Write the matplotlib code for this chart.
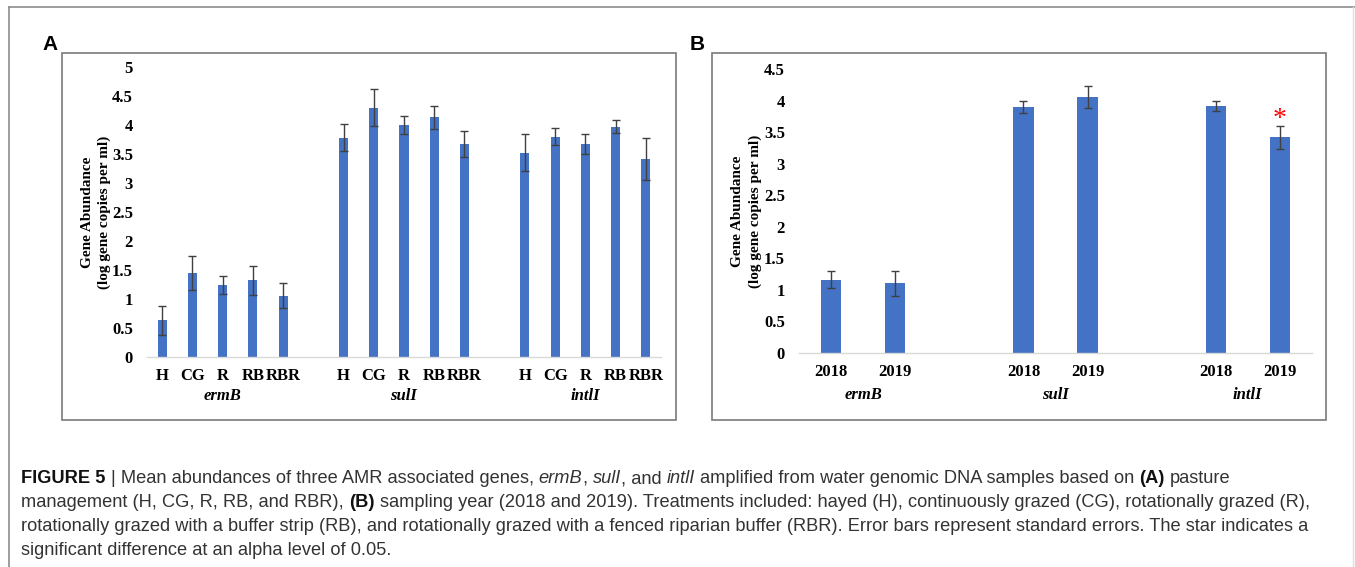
import matplotlib
matplotlib.use("Agg")
import matplotlib.pyplot as plt
from matplotlib.patches import Rectangle
from matplotlib.lines import Line2D
from matplotlib.transforms import blended_transform_factory
import numpy as np

# ---------------- data ----------------
treatments = ["H", "CG", "R", "RB", "RBR"]
genes = ["ermB", "sulI", "intlI"]
years = ["2018", "2019"]

# Panel A: mean log gene copies per ml by pasture management
a_ermB = [0.63, 1.45, 1.24, 1.32, 1.06]
a_ermB_se = [0.25, 0.30, 0.16, 0.25, 0.21]
a_sulI = [3.78, 4.30, 4.00, 4.13, 3.67]
a_sulI_se = [0.23, 0.32, 0.16, 0.20, 0.23]
a_intlI = [3.52, 3.80, 3.67, 3.97, 3.41]
a_intlI_se = [0.32, 0.14, 0.17, 0.11, 0.36]

# Panel B: by sampling year
b_ermB = [1.16, 1.10]
b_ermB_se = [0.13, 0.20]
b_sulI = [3.90, 4.06]
b_sulI_se = [0.10, 0.18]
b_intlI = [3.92, 3.42]
b_intlI_se = [0.08, 0.18]
significant_b = [(2, 1)]  # (gene index, year index) marked with a star

yticks_a = [0, 0.5, 1, 1.5, 2, 2.5, 3, 3.5, 4, 4.5, 5]
yticks_b = [0, 0.5, 1, 1.5, 2, 2.5, 3, 3.5, 4, 4.5]

ylabel_1 = "Gene Abundance"
ylabel_2 = "(log gene copies per ml)"

caption_lines = [
    [("FIGURE 5", "bold", "normal"), (" | Mean abundances of three AMR associated genes, ", "normal", "normal"),
     ("ermB", "normal", "italic"), (", ", "normal", "normal"), ("sulI", "normal", "italic"),
     (", and ", "normal", "normal"), ("intlI", "normal", "italic"),
     (" amplified from water genomic DNA samples based on ", "normal", "normal"),
     ("(A)", "bold", "normal"), (" pasture", "normal", "normal")],
    [("management (H, CG, R, RB, and RBR), ", "normal", "normal"), ("(B)", "bold", "normal"),
     (" sampling year (2018 and 2019). Treatments included: hayed (H), continuously grazed (CG), rotationally grazed (R),",
      "normal", "normal")],
    [("rotationally grazed with a buffer strip (RB), and rotationally grazed with a fenced riparian buffer (RBR). "
      "Error bars represent standard errors. The star indicates a", "normal", "normal")],
    [("significant difference at an alpha level of 0.05.", "normal", "normal")],
]

# ---------------- style ----------------
W, H = 1355, 567
BAR = "#4472C4"
ERR = "#404040"
SERIF = "Liberation Serif"
SANS = "Liberation Sans"
TXT = "#333333"
TICK_FS = 12

fig = plt.figure(figsize=(W / 100, H / 100), dpi=100)
fig.patch.set_facecolor("white")


def rect(l, t, r, b):
    return [l / W, 1 - b / H, (r - l) / W, (b - t) / H]


def fx(px):
    return px / W


def fy(py):
    return 1 - py / H


# outer frame lines
fig.add_artist(Line2D([fx(9), fx(1355)], [fy(7), fy(7)], color="#8c8c8c", lw=1.2))
fig.add_artist(Line2D([fx(9), fx(9)], [fy(7), fy(567)], color="#8c8c8c", lw=1.2))
fig.add_artist(Line2D([fx(1353), fx(1353)], [fy(7), fy(567)], color="#dddddd", lw=1.0))

# panel boxes
for l, t, r, b in [(62, 53, 676, 420), (712, 53, 1326, 420)]:
    fig.add_artist(Rectangle((fx(l), fy(b)), (r - l) / W, (b - t) / H, transform=fig.transFigure,
                             fill=False, edgecolor="#7a7a7a", lw=1.2))

fig.text(fx(50), fy(50), "A", family=SANS, fontweight="bold", fontsize=15, ha="center", va="baseline")
fig.text(fx(697), fy(50), "B", family=SANS, fontweight="bold", fontsize=15, ha="center", va="baseline")


def style_axes(ax, yticks, ylim, xlim, xpad):
    ax.set_ylim(*ylim)
    ax.set_xlim(*xlim)
    for s in ["top", "right", "left"]:
        ax.spines[s].set_visible(False)
    ax.spines["bottom"].set_color("#d9d9d9")
    ax.spines["bottom"].set_linewidth(1.0)
    ax.set_yticks(yticks)
    ax.set_yticklabels([("%g" % v) for v in yticks])
    ax.tick_params(axis="y", length=0, pad=10)
    ax.tick_params(axis="x", length=0, pad=xpad)
    for lab in ax.get_yticklabels() + ax.get_xticklabels():
        lab.set_fontfamily(SERIF)
        lab.set_fontweight("bold")
        lab.set_fontsize(TICK_FS)
    ax.set_facecolor("none")


# ---------------- panel A ----------------
axA = fig.add_axes(rect(147, 67, 661, 357))
a_vals = [a_ermB, a_sulI, a_intlI]
a_ses = [a_ermB_se, a_sulI_se, a_intlI_se]
a_x, a_lab = [], []
for gi, (vals, ses) in enumerate(zip(a_vals, a_ses)):
    xs = np.arange(len(treatments)) + gi * (len(treatments) + 1)
    axA.bar(xs, vals, width=0.3, color=BAR, zorder=2)
    axA.errorbar(xs, vals, yerr=ses, fmt="none", ecolor=ERR, elinewidth=1, capsize=3, capthick=1, zorder=3)
    a_x.extend(xs)
    a_lab.extend(treatments)
axA.set_xticks(a_x)
axA.set_xticklabels(a_lab)
style_axes(axA, yticks_a, (0, 5), (-0.5, 16.5), 8)
trA = blended_transform_factory(axA.transData, fig.transFigure)
for gi, g in enumerate(genes):
    c = gi * (len(treatments) + 1) + (len(treatments) - 1) / 2
    axA.text(c, fy(396), g, transform=trA, family=SERIF, fontweight="bold", fontstyle="italic",
             fontsize=TICK_FS, ha="center", va="center")
fig.text(fx(88), fy(212), ylabel_1, rotation=90, family=SERIF, fontweight="bold", fontsize=11,
         ha="center", va="center")
fig.text(fx(104), fy(212), ylabel_2, rotation=90, family=SERIF, fontweight="bold", fontsize=11,
         ha="center", va="center")

# ---------------- panel B ----------------
axB = fig.add_axes(rect(799, 69.3, 1312, 352.7))
b_vals = [b_ermB, b_sulI, b_intlI]
b_ses = [b_ermB_se, b_sulI_se, b_intlI_se]
b_x, b_lab = [], []
for gi, (vals, ses) in enumerate(zip(b_vals, b_ses)):
    xs = np.arange(len(years)) + gi * (len(years) + 1)
    axB.bar(xs, vals, width=0.32, color=BAR, zorder=2)
    axB.errorbar(xs, vals, yerr=ses, fmt="none", ecolor=ERR, elinewidth=1, capsize=3, capthick=1, zorder=3)
    b_x.extend(xs)
    b_lab.extend(years)
for gi, yi in significant_b:
    xpos = gi * (len(years) + 1) + yi
    top = b_vals[gi][yi] + b_ses[gi][yi]
    axB.annotate("*", xy=(xpos, top), xytext=(0, -4), textcoords="offset points", color="red",
                 family=SERIF, fontsize=20, ha="center", va="bottom")
axB.set_xticks(b_x)
axB.set_xticklabels(b_lab)
style_axes(axB, yticks_b, (0, 4.5), (-0.5, 7.5), 8)
trB = blended_transform_factory(axB.transData, fig.transFigure)
for gi, g in enumerate(genes):
    c = gi * (len(years) + 1) + (len(years) - 1) / 2
    axB.text(c, fy(395), g, transform=trB, family=SERIF, fontweight="bold", fontstyle="italic",
             fontsize=TICK_FS, ha="center", va="center")
fig.text(fx(738), fy(211), ylabel_1, rotation=90, family=SERIF, fontweight="bold", fontsize=11,
         ha="center", va="center")
fig.text(fx(755), fy(211), ylabel_2, rotation=90, family=SERIF, fontweight="bold", fontsize=11,
         ha="center", va="center")

# ---------------- caption ----------------
renderer = fig.canvas.get_renderer()


def seg_width(txt, weight, style, size):
    core = txt.strip(" ")
    nlead = len(txt) - len(txt.lstrip(" "))
    ntrail = len(txt) - len(txt.rstrip(" "))
    t1 = fig.text(0, 0, "x x", family=SANS, fontweight=weight, fontstyle=style, fontsize=size)
    t2 = fig.text(0, 0, "xx", family=SANS, fontweight=weight, fontstyle=style, fontsize=size)
    sp = t1.get_window_extent(renderer).width - t2.get_window_extent(renderer).width
    t1.remove(); t2.remove()
    w = 0
    if core:
        t = fig.text(0, 0, core, family=SANS, fontweight=weight, fontstyle=style, fontsize=size)
        w = t.get_window_extent(renderer).width
        t.remove()
    return w, nlead * sp, ntrail * sp


def line_width(segs, size):
    total = 0
    for txt, wt, st in segs:
        w, a, b = seg_width(txt, wt, st, size)
        total += w + a + b
    return total


base_size = 12.0
target = 1235 - 21
cap_size = base_size * target / line_width(caption_lines[0], base_size)

baselines = [483, 507, 531, 555]
for segs, bl in zip(caption_lines, baselines):
    x = 21.0
    for txt, wt, st in segs:
        w, a, b = seg_width(txt, wt, st, cap_size)
        x += a
        core = txt.strip(" ")
        if core:
            color = "#111111" if wt == "bold" else TXT
            fig.text(fx(x), fy(bl), core, family=SANS, fontweight=wt, fontstyle=st, fontsize=cap_size,
                     color=color, ha="left", va="baseline")
        x += w + b

fig.savefig("out.png", dpi=100, facecolor="white")
